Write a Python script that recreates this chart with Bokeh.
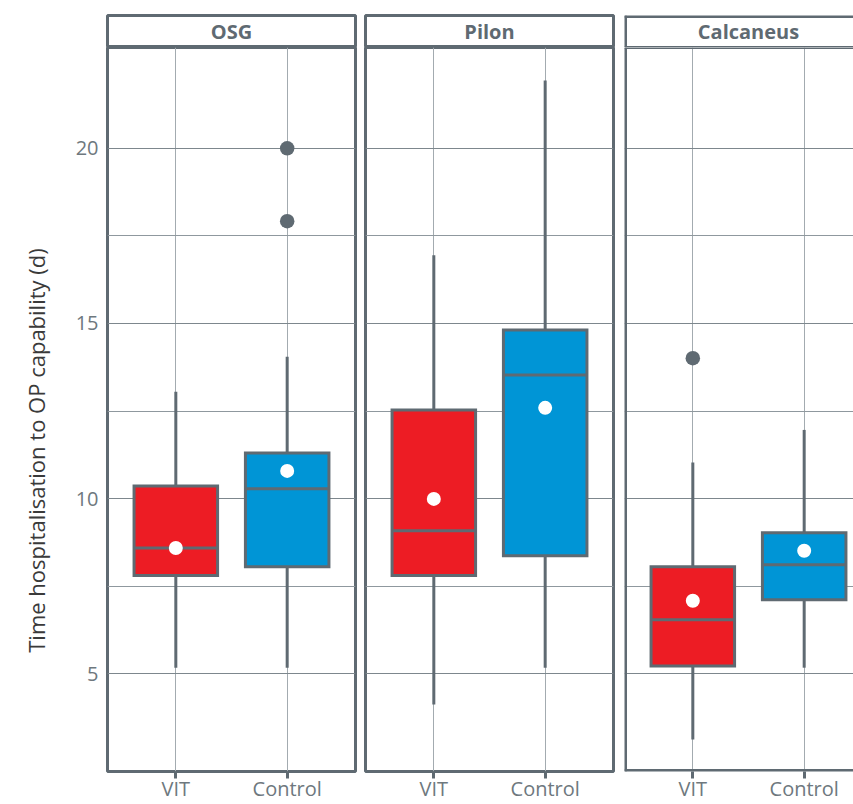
import math
from bokeh.plotting import figure
from bokeh.models import Range1d, FixedTicker, Label, Span, ColumnDataSource
from bokeh.layouts import column, row
from bokeh.embed import file_html
from bokeh.resources import INLINE

# ---------------- data ----------------
panels = ["OSG", "Pilon", "Calcaneus"]
groups = ["VIT", "Control"]
group_colors = ["#ed1c24", "#0095d6"]

whisker_low = {"OSG": [5.17, 5.17], "Pilon": [4.12, 5.17], "Calcaneus": [3.12, 5.17]}
box_q1 = {"OSG": [7.80, 8.05], "Pilon": [7.80, 8.37], "Calcaneus": [5.22, 7.11]}
box_median = {"OSG": [8.59, 10.28], "Pilon": [9.08, 13.53], "Calcaneus": [6.54, 8.11]}
box_q3 = {"OSG": [10.36, 11.30], "Pilon": [12.53, 14.81], "Calcaneus": [8.05, 9.02]}
whisker_high = {"OSG": [13.05, 14.05], "Pilon": [16.95, 21.94], "Calcaneus": [11.03, 11.96]}
group_mean = {"OSG": [8.59, 10.79], "Pilon": [9.99, 12.59], "Calcaneus": [7.08, 8.51]}

outlier_panel = ["OSG", "OSG", "Calcaneus"]
outlier_group = ["Control", "Control", "VIT"]
outlier_value = [20.0, 17.92, 14.01]

y_ticks = [5, 10, 15, 20]
y_minor = [7.5, 12.5, 17.5]
y_title = "Time hospitalisation to OP capability (d)"

# ---------------- style / layout ----------------
FONT = "Open Sans"
GRAY = "#5f6a72"
TICK_GRAY = "#6e787e"
GRID_MAJOR = "#7d878d"
GRID_MINOR = "#8f989e"
GRID_V = "#a3abb0"

Y0, Y1 = 2.206, 22.88
FRAME_W = 248
FRAME_H = 725
PX_X = (FRAME_W - 3) / 2.2      # px per x unit (inside the 3px border)
X_START = 0.4 - 1.5 / PX_X
BOX_W = 0.75
TITLE_W = 60                    # width of the column holding the y title
PAGE_H = 804

borders = [(107 - TITLE_W, 248, 2), (8, 248, 2), (9, 229, 0)]

strips, plots = [], []
for i, name in enumerate(panels):
    left, fw, right = borders[i]
    xs = [k + 1 for k in range(len(groups))]
    xr = Range1d(X_START, X_START + fw / PX_X)
    yr = Range1d(Y0, Y1)
    last = (i == len(panels) - 1)

    # ---- panel ----
    p = figure(width=left + fw + right, height=FRAME_H + 32, x_range=xr, y_range=yr,
               x_axis_location="below", y_axis_location=("left" if i == 0 else None),
               min_border_left=left, min_border_right=right,
               min_border_top=0, min_border_bottom=32,
               output_backend="svg", toolbar_location=None)
    p.background_fill_color = "white"
    p.border_fill_color = "white"
    if last:
        p.outline_line_color = None
        p.add_layout(Span(location=xr.start, dimension="height", line_color=GRAY, line_width=5))
        p.add_layout(Span(location=Y0, dimension="width", line_color=GRAY, line_width=5))
        p.add_layout(Span(location=Y1, dimension="width", line_color=GRAY, line_width=3))
    else:
        p.outline_line_color = GRAY
        p.outline_line_width = 3

    p.xgrid.ticker = FixedTicker(ticks=xs)
    p.xgrid.grid_line_color = GRID_V
    p.xgrid.grid_line_width = 1
    p.ygrid.ticker = FixedTicker(ticks=y_ticks, minor_ticks=y_minor)
    p.ygrid.grid_line_color = GRID_MAJOR
    p.ygrid.grid_line_width = 1
    p.ygrid.minor_grid_line_color = GRID_MINOR
    p.ygrid.minor_grid_line_width = 1

    p.xaxis.ticker = FixedTicker(ticks=xs)
    p.xaxis.major_label_overrides = {x: g for x, g in zip(xs, groups)}
    p.xaxis.axis_line_color = None
    p.xaxis.major_tick_in = 0
    p.xaxis.major_tick_out = 7
    p.xaxis.major_tick_line_color = GRAY
    p.xaxis.major_tick_line_width = 3
    p.xaxis.minor_tick_line_color = None
    p.xaxis.major_label_standoff = -4
    p.xaxis.major_label_text_font = FONT
    p.xaxis.major_label_text_font_size = "20px"
    p.xaxis.major_label_text_color = TICK_GRAY

    if i == 0:
        p.yaxis.ticker = FixedTicker(ticks=y_ticks)
        p.yaxis.axis_line_color = None
        p.yaxis.major_tick_line_color = None
        p.yaxis.minor_tick_line_color = None
        p.yaxis.major_tick_in = 0
        p.yaxis.major_tick_out = 0
        p.yaxis.major_label_standoff = 9
        p.yaxis.major_label_text_font = FONT
        p.yaxis.major_label_text_font_size = "20px"
        p.yaxis.major_label_text_color = TICK_GRAY

    src = ColumnDataSource(dict(
        x=xs, lo=whisker_low[name], q1=box_q1[name], med=box_median[name],
        q3=box_q3[name], hi=whisker_high[name], mean=group_mean[name],
        color=group_colors,
        x0=[x - BOX_W / 2 for x in xs], x1=[x + BOX_W / 2 for x in xs]))

    p.segment(x0="x", y0="lo", x1="x", y1="q1", source=src, line_color=GRAY, line_width=3)
    p.segment(x0="x", y0="q3", x1="x", y1="hi", source=src, line_color=GRAY, line_width=3)
    p.vbar(x="x", width=BOX_W, bottom="q1", top="q3", source=src,
           fill_color="color", line_color=GRAY, line_width=3, line_join="miter")
    p.segment(x0="x0", y0="med", x1="x1", y1="med", source=src, line_color=GRAY, line_width=3)

    ox = [groups.index(g) + 1 for pn, g in zip(outlier_panel, outlier_group) if pn == name]
    oy = [v for pn, v in zip(outlier_panel, outlier_value) if pn == name]
    if ox:
        p.scatter(x=ox, y=oy, size=14.5, fill_color=GRAY, line_color=None)
    p.scatter(x="x", y="mean", source=src, size=14, fill_color="white", line_color=None)

    # ---- strip ----
    s = figure(width=left + fw + right, height=47, x_range=xr, y_range=Range1d(0, 1),
               x_axis_location=None, y_axis_location=None,
               min_border_left=left, min_border_right=right,
               min_border_top=15, min_border_bottom=0,
               output_backend="svg", toolbar_location=None)
    s.grid.visible = False
    s.background_fill_color = "white"
    s.border_fill_color = "white"
    if last:
        s.outline_line_color = None
        s.add_layout(Span(location=xr.start, dimension="height", line_color=GRAY, line_width=5))
        s.add_layout(Span(location=0, dimension="width", line_color=GRAY, line_width=3))
        s.add_layout(Span(location=1, dimension="width", line_color=GRAY, line_width=5))
    else:
        s.outline_line_color = GRAY
        s.outline_line_width = 3
    s.add_layout(Label(x=(len(groups) + 1) / 2, y=0.5, text=name, text_align="center",
                       text_baseline="middle", text_font=FONT, text_font_style="bold",
                       text_font_size="20px", text_color=GRAY))

    strips.append(s)
    plots.append(p)

# ---- y-axis title column ----
yt = figure(width=TITLE_W, height=PAGE_H, x_range=Range1d(0, TITLE_W), y_range=Range1d(PAGE_H, 0),
            x_axis_location=None, y_axis_location=None, min_border=0,
            output_backend="svg", toolbar_location=None)
yt.grid.visible = False
yt.outline_line_color = None
yt.background_fill_color = "white"
yt.border_fill_color = "white"
yt.add_layout(Label(x=35, y=450, text=y_title, angle=math.pi / 2, text_align="center",
                    text_baseline="middle", text_font=FONT, text_font_size="22px",
                    text_color="#3a3a3a"))

layout = row(yt, column(row(*strips, spacing=0), row(*plots, spacing=0), spacing=0), spacing=0)
open("out.html", "w").write(file_html(layout, INLINE))
